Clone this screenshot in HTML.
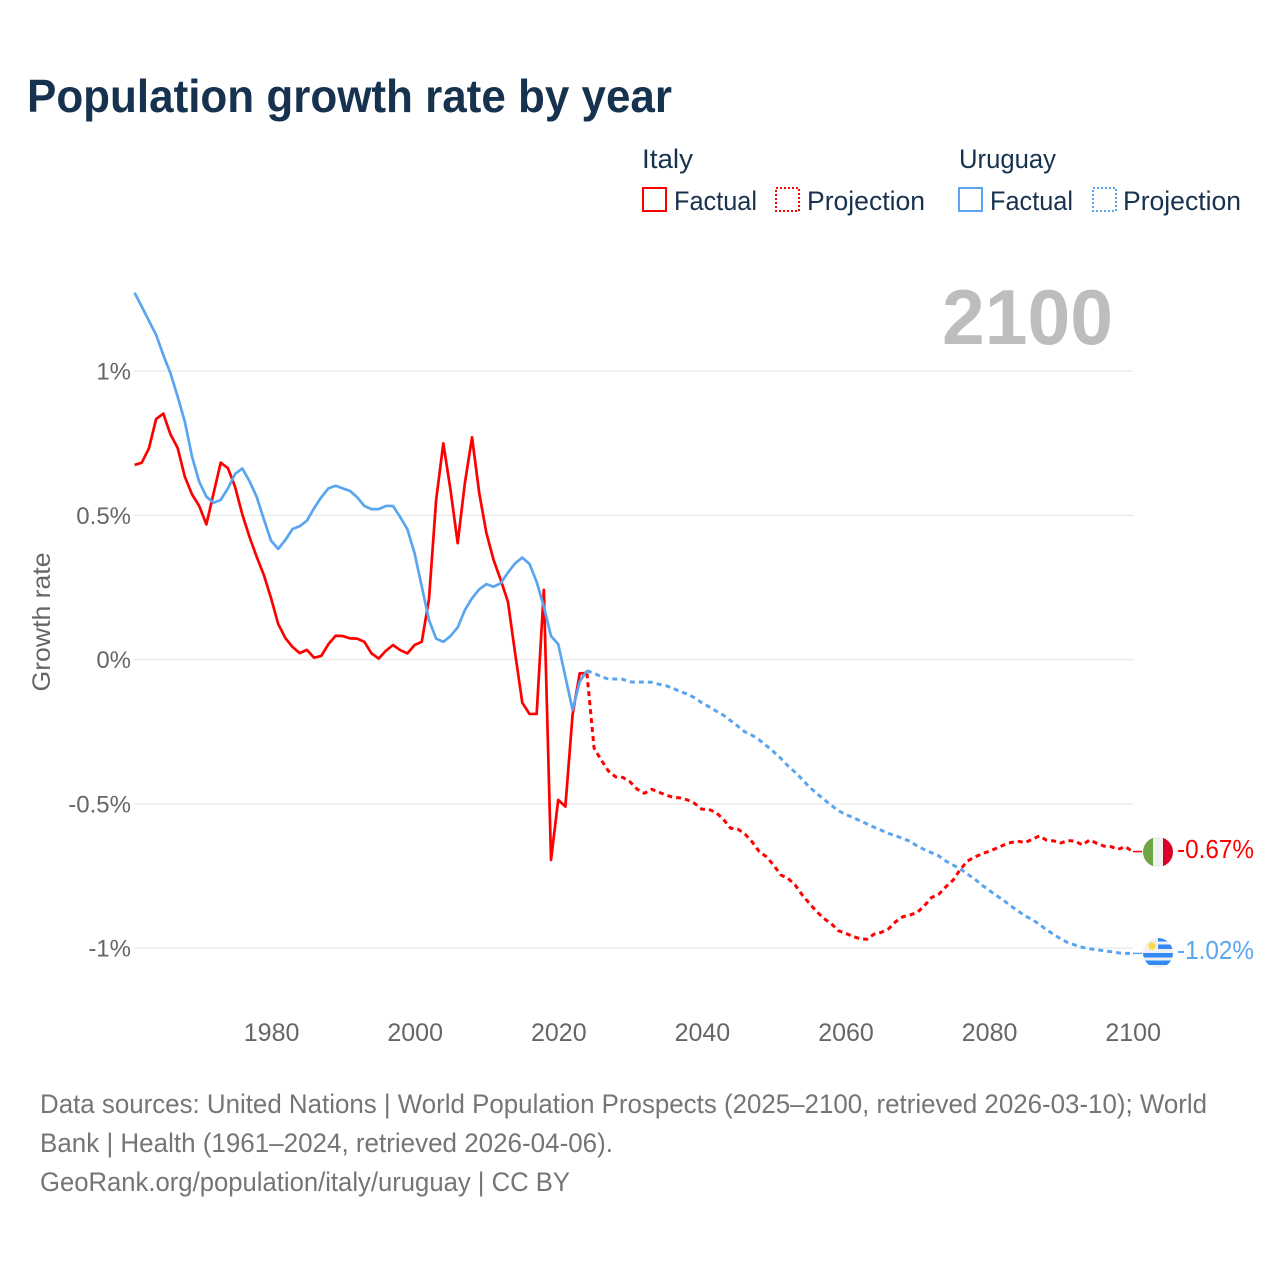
<!DOCTYPE html>
<html lang="en">
<head>
<meta charset="utf-8">
<title>Population growth rate by year</title>
<style>
html,body{margin:0;padding:0;background:#fff;}
svg{display:block;font-family:"Liberation Sans",sans-serif;}
</style>
</head>
<body>
<svg id="chart" width="1280" height="1280" viewBox="0 0 1280 1280" xmlns="http://www.w3.org/2000/svg">
  <defs>
    <clipPath id="flag-clip-it"><circle cx="1158" cy="852" r="15"/></clipPath>
    <clipPath id="flag-clip-uy"><circle cx="1158" cy="953" r="15"/></clipPath>
  </defs>
  <rect width="1280" height="1280" fill="#fff"/>
  <text x="27" y="112" font-size="46" font-weight="700" fill="#17324f" textLength="645" lengthAdjust="spacingAndGlyphs">Population growth rate by year</text>

  <g font-size="27" fill="#17324f">
    <text x="642" y="168" textLength="51" lengthAdjust="spacingAndGlyphs">Italy</text>
    <text x="959" y="168" textLength="97" lengthAdjust="spacingAndGlyphs">Uruguay</text>
    <rect x="643" y="188" width="23" height="23" fill="none" stroke="#ff0000" stroke-width="2"/>
    <text x="674" y="210" textLength="83" lengthAdjust="spacingAndGlyphs">Factual</text>
    <rect x="776" y="188" width="23" height="23" fill="none" stroke="#ff0000" stroke-width="2" stroke-dasharray="2 2"/>
    <text x="807" y="210" textLength="118" lengthAdjust="spacingAndGlyphs">Projection</text>
    <rect x="959" y="188" width="23" height="23" fill="none" stroke="#5aa5ef" stroke-width="2"/>
    <text x="990" y="210" textLength="83" lengthAdjust="spacingAndGlyphs">Factual</text>
    <rect x="1093" y="188" width="23" height="23" fill="none" stroke="#5aa5ef" stroke-width="2" stroke-dasharray="2 2"/>
    <text x="1123" y="210" textLength="118" lengthAdjust="spacingAndGlyphs">Projection</text>
  </g>

  <text x="1113" y="344" text-anchor="end" font-size="78" font-weight="700" fill="#bdbdbd" textLength="171" lengthAdjust="spacingAndGlyphs">2100</text>
  <g id="grid"></g>
  <g id="y-ticks"></g>
  <g id="x-ticks"></g>
  <text transform="translate(50,622) rotate(-90)" text-anchor="middle" font-size="25" fill="#666" textLength="139" lengthAdjust="spacingAndGlyphs">Growth rate</text>
  <g id="series"></g>

  <g clip-path="url(#flag-clip-it)">
    <rect x="1143" y="837" width="10" height="30" fill="#6da544"/>
    <rect x="1153" y="837" width="10" height="30" fill="#f0f0f0"/>
    <rect x="1163" y="837" width="10" height="30" fill="#d80027"/>
  </g>
  <g clip-path="url(#flag-clip-uy)">
    <rect x="1143" y="938" width="30" height="30" fill="#f0f0f0"/>
    <rect x="1158" y="938" width="15" height="3.5" fill="#338af3"/>
    <rect x="1158" y="944.5" width="15" height="4.5" fill="#338af3"/>
    <rect x="1143" y="953" width="30" height="4.5" fill="#338af3"/>
    <rect x="1143" y="960.5" width="30" height="4.5" fill="#338af3"/>
    <circle cx="1152" cy="946" r="3.7" fill="#ffda44"/>
  </g>
  <text x="1177" y="858" font-size="26" fill="#ff0000" textLength="77" lengthAdjust="spacingAndGlyphs">-0.67%</text>
  <text x="1177" y="959" font-size="26" fill="#5aa5ef" textLength="77" lengthAdjust="spacingAndGlyphs">-1.02%</text>

  <g font-size="27" fill="#757575">
    <text x="40" y="1113" textLength="1167" lengthAdjust="spacingAndGlyphs">Data sources: United Nations | World Population Prospects (2025–2100, retrieved 2026-03-10); World</text>
    <text x="40" y="1152" textLength="573" lengthAdjust="spacingAndGlyphs">Bank | Health (1961–2024, retrieved 2026-04-06).</text>
    <text x="40" y="1191" textLength="530" lengthAdjust="spacingAndGlyphs">GeoRank.org/population/italy/uruguay | CC BY</text>
  </g>
</svg>
<script>
const factualStartYear = 1961;
const projectionStartYear = 2024;
const yTickValues = [1, 0.5, 0, -0.5, -1];
const yTickLabels = ["1%", "0.5%", "0%", "-0.5%", "-1%"];
const xTickValues = [1980, 2000, 2020, 2040, 2060, 2080, 2100];
const italyFactual = [0.676,0.684,0.734,0.835,0.854,0.782,0.735,0.635,0.574,0.534,0.47,0.578,0.684,0.665,0.6,0.505,0.427,0.358,0.295,0.215,0.125,0.076,0.045,0.024,0.035,0.008,0.014,0.055,0.084,0.083,0.075,0.074,0.063,0.023,0.005,0.032,0.052,0.034,0.023,0.052,0.063,0.21,0.555,0.751,0.59,0.405,0.613,0.772,0.579,0.44,0.347,0.277,0.202,0.023,-0.148,-0.187,-0.187,0.243,-0.693,-0.485,-0.508,-0.19,-0.046,-0.046];
const italyProjection = [-0.046,-0.306,-0.347,-0.385,-0.405,-0.407,-0.422,-0.448,-0.462,-0.448,-0.458,-0.468,-0.476,-0.478,-0.485,-0.497,-0.517,-0.518,-0.529,-0.552,-0.583,-0.586,-0.603,-0.63,-0.664,-0.682,-0.711,-0.745,-0.757,-0.78,-0.815,-0.844,-0.872,-0.896,-0.913,-0.938,-0.947,-0.958,-0.966,-0.968,-0.95,-0.944,-0.932,-0.907,-0.89,-0.884,-0.875,-0.852,-0.823,-0.812,-0.786,-0.763,-0.726,-0.697,-0.683,-0.672,-0.663,-0.653,-0.642,-0.633,-0.628,-0.633,-0.622,-0.61,-0.624,-0.627,-0.634,-0.626,-0.628,-0.641,-0.624,-0.635,-0.645,-0.647,-0.656,-0.647,-0.664];
const uruguayFactual = [1.273,1.225,1.176,1.127,1.057,0.994,0.913,0.826,0.705,0.618,0.566,0.545,0.555,0.595,0.645,0.664,0.62,0.566,0.488,0.414,0.385,0.416,0.454,0.464,0.483,0.526,0.564,0.595,0.604,0.595,0.586,0.564,0.534,0.523,0.523,0.534,0.534,0.495,0.453,0.37,0.254,0.139,0.074,0.063,0.083,0.113,0.173,0.214,0.245,0.263,0.254,0.266,0.303,0.335,0.355,0.333,0.271,0.185,0.083,0.055,-0.058,-0.173,-0.075,-0.037];
const uruguayProjection = [-0.037,-0.046,-0.058,-0.066,-0.066,-0.067,-0.076,-0.077,-0.076,-0.077,-0.084,-0.089,-0.098,-0.11,-0.118,-0.131,-0.148,-0.162,-0.177,-0.191,-0.21,-0.229,-0.249,-0.261,-0.277,-0.297,-0.318,-0.341,-0.367,-0.389,-0.414,-0.441,-0.462,-0.483,-0.503,-0.522,-0.535,-0.545,-0.557,-0.568,-0.58,-0.59,-0.601,-0.609,-0.619,-0.628,-0.645,-0.657,-0.668,-0.679,-0.697,-0.711,-0.724,-0.742,-0.759,-0.78,-0.798,-0.816,-0.832,-0.852,-0.869,-0.887,-0.899,-0.916,-0.935,-0.951,-0.967,-0.98,-0.988,-0.996,-1.001,-1.004,-1.008,-1.011,-1.015,-1.017,-1.017];

const NS = "http://www.w3.org/2000/svg";
const RED = "#ff0000";
const BLUE = "#5aa5ef";
function xScale(year) { return 271 + (year - 1980) * 7.18; }
function yScale(value) { return 660 - value * 288.5; }
function make(tag, attrs, parent, text) {
  const el = document.createElementNS(NS, tag);
  for (const k in attrs) el.setAttribute(k, attrs[k]);
  if (text !== undefined) el.textContent = text;
  parent.appendChild(el);
  return el;
}
const gridGroup = document.getElementById("grid");
const yGroup = document.getElementById("y-ticks");
const xGroup = document.getElementById("x-ticks");
const seriesGroup = document.getElementById("series");

yTickValues.forEach(function (v, i) {
  const line = make("line", {x1: 134, x2: 1133, y1: yScale(v) - 0.4, y2: yScale(v) - 0.4, stroke: "#ebebeb", "stroke-width": 1.5}, gridGroup);
  
  
  const label = make("text", {x: 131, y: yScale(v) + 8, "text-anchor": "end", "font-size": 24, fill: "#666"}, yGroup, yTickLabels[i]);
  
  
});
xTickValues.forEach(function (year) {
  const label = make("text", {x: xScale(year) + 0.6, y: 1041, "text-anchor": "middle", "font-size": 25, fill: "#666"}, xGroup, String(year));
  
  
});
function linePath(values, startYear) {
  return values.map(function (v, i) {
    return (i ? "L" : "M") + xScale(startYear + i).toFixed(2) + " " + yScale(v).toFixed(2);
  }).join("");
}
function addSeries(values, startYear, color, dashed) {
  const attrs = {d: linePath(values, startYear), fill: "none", stroke: color, "stroke-width": 2.7, "stroke-linejoin": "round"};
  if (dashed) { attrs["stroke-dasharray"] = "5 4"; attrs["stroke-width"] = 3; }
  return make("path", attrs, seriesGroup);
}
const italyProjectionLine = addSeries(italyProjection, projectionStartYear, RED, true);


const uruguayProjectionLine = addSeries(uruguayProjection, projectionStartYear, BLUE, true);


const italyFactualLine = addSeries(italyFactual, factualStartYear, RED, false);


const uruguayFactualLine = addSeries(uruguayFactual, factualStartYear, BLUE, false);



function addConnector(values, color) {
  const y = yScale(values[values.length - 1]);
  return make("line", {x1: 1133, x2: 1142, y1: y, y2: y, stroke: color, "stroke-width": 1.5}, seriesGroup);
}
const italyConnector = addConnector(italyProjection, RED);


const uruguayConnector = addConnector(uruguayProjection, BLUE);


</script>
</body>
</html>
